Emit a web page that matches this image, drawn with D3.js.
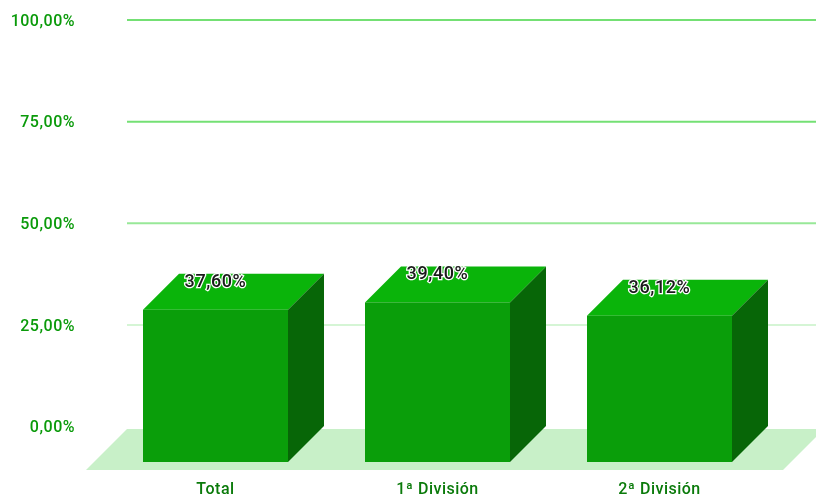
<!DOCTYPE html>
<html>
<head>
<meta charset="utf-8">
<script src="https://cdn.jsdelivr.net/npm/d3@7"></script>
<style>
	html, body { margin: 0; padding: 0; background: #fff; }
	svg { display: block; }
	filter { color-interpolation-filters: sRGB; }
	text { font-family: Roboto, sans-serif; font-weight: 500; }
</style>
</head>
<body>
<div id="chart01"></div>
<script>
const categories = ["Total", "1ª División", "2ª División"];
const values = [37.6, 39.4, 36.12];
const valueLabels = ["37,60%", "39,40%", "36,12%"];
const yTicks = [0, 25, 50, 75, 100];
const yTickLabels = ["0,00%", "25,00%", "50,00%", "75,00%", "100,00%"];
const gridColors = ["#c8f0c8", "#d5f5d5", "#98e898", "#74e074", "#74e074"];

var width = 816;
var height = 498;
var depth = 36;

var svg = d3.select("#chart01").append("svg").attr("width", width).attr("height", height);

var defs = svg.append("defs");
defs.append("filter").attr("id", "soft").append("feGaussianBlur").attr("stdDeviation", 0.6);
defs.append("filter").attr("id", "edge").append("feGaussianBlur").attr("stdDeviation", 0.4);

// back wall scale, used for the axis and the gridlines
var yBack = d3.scaleLinear().domain([0, 100]).range([426, 19.5]);
// front plane of the bars
var yFront = d3.scaleLinear().domain([0, 100]).range([462, 57]);
var x = d3.scaleBand().domain(categories).range([104.5, 770.5]).paddingInner(77 / 222).paddingOuter(77 / 444);

// floor
svg
	.append("path")
	.attr("d", d3.line()([[86, 470], [127, 429], [816, 429], [816, 437], [783, 470]]) + "Z")
	.attr("fill", "#c8f0c8")
	.attr("filter", "url(#edge)");

// gridlines
var axis = svg
	.append("g")
	.attr("transform", "translate(127,0)")
	.call(
		d3.axisLeft(yBack)
			.tickValues(yTicks)
			.tickSize(-689)
			.tickPadding(52)
			.tickFormat((d, i) => yTickLabels[i])
	);
axis.select(".domain").remove();
axis.selectAll(".tick line")
	.attr("stroke", (d, i) => gridColors[i])
	.attr("stroke-width", 2)
	.attr("display", (d) => (d === 0 ? "none" : null));
axis.selectAll(".tick text")
	.attr("fill", "#0a9a0a")
	.attr("font-size", "16px")
	.attr("letter-spacing", "0.5px")
	.attr("text-anchor", "end")
	.attr("dy", "0.36em")
	.attr("filter", "url(#soft)");

// bars
categories.forEach((c, i) => {
	var left = x(c);
	var right = left + x.bandwidth();
	var top = yFront(values[i]);
	var bottom = yFront(0);
	var g = svg.append("g");
	var faces = g.append("g").attr("filter", "url(#edge)");

	faces.append("path")
		.attr("d", d3.line()([[left, top], [left + depth, top - depth], [right + depth, top - depth], [right, top]]) + "Z")
		.attr("fill", "#0ab40a");
	faces.append("path")
		.attr("d", d3.line()([[right, top], [right + depth, top - depth], [right + depth, bottom - depth], [right, bottom]]) + "Z")
		.attr("fill", "#076607");
	faces.append("rect")
		.attr("x", left)
		.attr("y", top)
		.attr("width", x.bandwidth())
		.attr("height", bottom - top)
		.attr("fill", "#0a9e0a");

	// value label, dark text with a white halo
	g.append("text")
		.attr("x", left + x.bandwidth() / 2)
		.attr("y", top - depth + 13)
		.attr("text-anchor", "middle")
		.attr("font-size", "18px")
		.attr("letter-spacing", "0.6px")
		.attr("fill", "#1a1a1a")
		.attr("stroke", "#fff")
		.attr("stroke-width", 2.5)
		.attr("paint-order", "stroke")
		.attr("filter", "url(#edge)")
		.text(valueLabels[i]);

	// category label
	svg.append("text")
		.attr("x", left + x.bandwidth() / 2)
		.attr("y", 493.5)
		.attr("text-anchor", "middle")
		.attr("font-size", "16px")
		.attr("letter-spacing", "0.5px")
		.attr("fill", "#0a7a0a")
		.attr("filter", "url(#soft)")
		.text(c);
});
</script>
</body>
</html>
